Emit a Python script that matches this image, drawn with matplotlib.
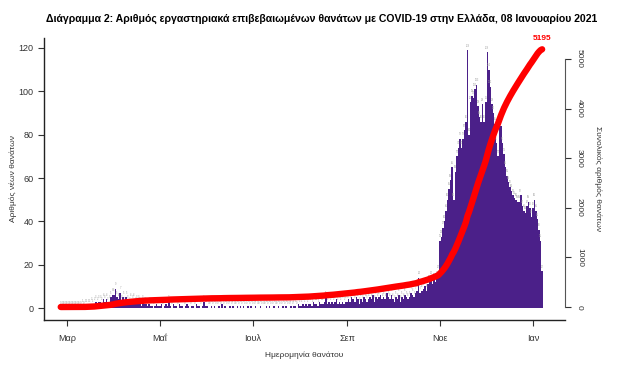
import numpy as np
import pandas as pd
import matplotlib
matplotlib.use('Agg')
import matplotlib.pyplot as plt

plt.rcParams['font.family'] = ['Liberation Sans', 'DejaVu Sans']

# daily deaths by date of death, 26 Feb 2020 - 7 Jan 2021
feb = [0, 0, 0, 0]
mar = [0, 0, 0, 0, 0, 0, 0, 0, 0, 0,
       1, 0, 1, 1, 1, 1, 2, 1, 2, 3, 2, 3, 3, 2, 4, 3, 4, 2, 3, 5, 6]
apr = [6, 9, 5, 4, 7, 3, 5, 2, 5, 3, 2, 4, 3, 4, 2, 3, 3, 2, 1, 3,
       2, 2, 1, 2, 1, 1, 0, 1, 2, 1]
may = [1, 2, 0, 1, 2, 1, 3, 1, 0, 2, 1, 1, 0, 2, 1, 1, 0, 1, 2, 1,
       0, 1, 1, 0, 2, 1, 1, 0, 1, 3, 1]
jun = [1, 0, 0, 1, 0, 1, 0, 0, 1, 0, 2, 0, 1, 0, 0, 1, 0, 1, 0, 0,
       1, 0, 1, 0, 1, 0, 0, 1, 0, 1]
jul = [0, 0, 1, 0, 0, 1, 0, 0, 0, 1, 0, 1, 0, 0, 1, 0, 0, 1, 0, 0,
       1, 0, 1, 0, 0, 1, 0, 1, 1, 0, 2]
aug = [1, 1, 2, 1, 2, 1, 2, 2, 1, 3, 2, 2, 1, 3, 2, 2, 3, 5, 2, 3,
       2, 3, 2, 3, 4, 2, 3, 2, 3, 2, 3]
sep = [3, 4, 3, 5, 4, 3, 5, 4, 2, 4, 3, 5, 4, 3, 4, 5, 4, 6, 3, 5,
       4, 5, 6, 4, 5, 4, 7, 5, 4, 6]
oct_ = [4, 3, 5, 4, 6, 3, 5, 4, 6, 5, 4, 5, 7, 6, 5, 7, 8, 14, 7, 8,
        9, 10, 8, 11, 12, 14, 11, 13, 12, 14, 17]
nov = [31, 33, 37, 40, 45, 50, 55, 59, 65, 50, 63, 70, 74, 78,
       74, 78, 82, 86, 119, 80, 95, 98, 97, 101, 103, 93, 88, 86, 94, 86]
dec = [95, 118, 110, 102, 94, 90, 85, 76, 70, 85, 84, 76, 71, 65, 61,
       58, 56, 54, 52, 51, 50, 49, 49, 52, 47, 45, 44, 47, 49, 46, 42]
jan = [46, 50, 45, 41, 36, 31, 17]

daily = feb + mar + apr + may + jun + jul + aug + sep + oct_ + nov + dec + jan
dates = pd.date_range('2020-02-26', periods=len(daily), freq='D')
cum = np.cumsum(daily)

tick_dates = pd.to_datetime(['2020-03-01', '2020-05-01', '2020-07-01',
                             '2020-09-01', '2020-11-01', '2021-01-01'])
tick_names = ['Μαρ', 'Μαΐ', 'Ιουλ', 'Σεπ', 'Νοε', 'Ιαν']

purple = '#4b2089'
red = '#ff0000'
dark = '#333333'

fig = plt.figure(figsize=(6.41, 3.74), dpi=100)
ax = fig.add_axes([0.0686, 0.1444, 0.8128, 0.7540])

ax.bar(dates, daily, width=1.0, color=purple, linewidth=0)
for d, v in zip(dates, daily):
    ax.text(d, v + 1.2, str(v), fontsize=1.8, color='#999999',
            ha='center', va='bottom')

ax.set_xlim(pd.Timestamp('2020-02-15'), pd.Timestamp('2021-01-22'))
ax.set_ylim(-5.5, 124.6)
ax.set_yticks(range(0, 121, 20))
ax.set_xticks(tick_dates)
ax.set_xticklabels(tick_names)
ax.tick_params(labelsize=6.5, colors=dark, length=4, width=0.8, direction='out')
ax.tick_params(axis='x', pad=6)
ax.spines['top'].set_visible(False)
ax.spines['right'].set_visible(False)
for s in ['left', 'bottom']:
    ax.spines[s].set_linewidth(1.0)
    ax.spines[s].set_color('#222222')

ax2 = ax.twinx()
ax2.plot(dates, cum, color=red, lw=4.6, solid_capstyle='round')
ax2.set_ylim(-262, 5423)
ax2.set_yticks(range(0, 5001, 1000))
ax2.tick_params(axis='y', labelsize=6, colors=dark, length=4, width=0.8,
                labelrotation=-90, pad=4)
for lab in ax2.get_yticklabels():
    lab.set_va('center')
for s in ['top', 'left', 'bottom']:
    ax2.spines[s].set_visible(False)
ax2.spines['right'].set_bounds(0, 5000)
ax2.spines['right'].set_color('#555555')
ax2.text(dates[-1], cum[-1] + 140, str(cum[-1]), color=red, fontsize=6,
         fontweight='bold', ha='center', va='bottom')

fig.text(322 / 641, 1 - 19 / 374,
         'Διάγραμμα 2: Αριθμός εργαστηριακά επιβεβαιωμένων θανάτων με COVID-19 στην Ελλάδα, 08 Ιανουαρίου 2021',
         fontsize=7.6, fontweight='bold', ha='center', va='center')
fig.text(13 / 641, 1 - 179 / 374, 'Αριθμός νέων θανάτων', fontsize=6,
         color=dark, rotation=90, ha='center', va='center')
fig.text(598 / 641, 1 - 179 / 374, 'Συνολικός αριθμός θανάτων', fontsize=6,
         color=dark, rotation=-90, ha='center', va='center')
fig.text(304 / 641, 1 - 355 / 374, 'Ημερομηνία θανάτου', fontsize=6,
         color=dark, ha='center', va='center')

fig.savefig('out.png', dpi=100)
